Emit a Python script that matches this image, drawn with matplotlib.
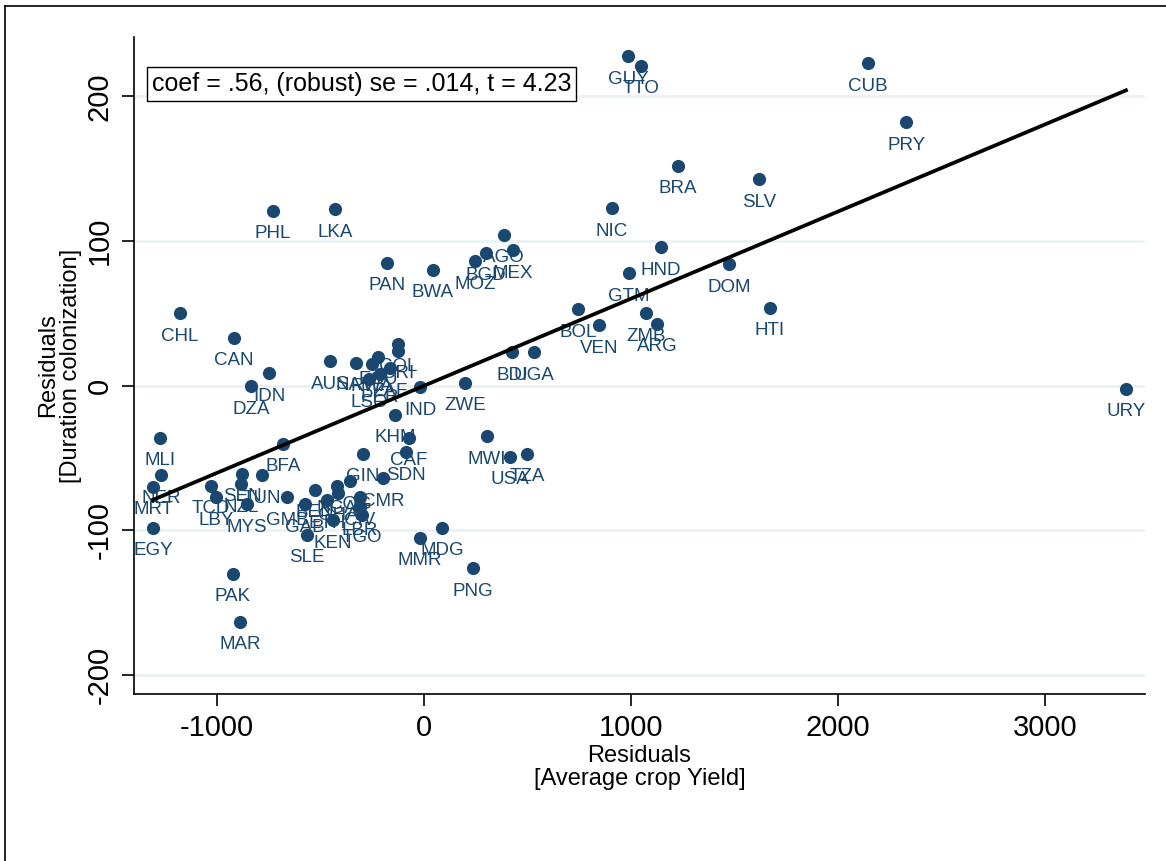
# Added-variable plot: duration of colonization vs average crop yield

import matplotlib
matplotlib.use("Agg")
import matplotlib.pyplot as plt
from matplotlib.lines import Line2D
import numpy as np

plt.rcParams['font.family'] = ['Liberation Sans', 'DejaVu Sans']
plt.rcParams['axes.unicode_minus'] = False

paises = ["CHL", "CAN", "IDN", "DZA", "MLI", "NER", "MRT", "EGY",
          "TCD", "LBY", "SEN", "NZL", "TUN", "MYS", "BFA", "PAK", "MAR",
          "PHL", "LKA", "PAN", "BWA", "MOZ", "BGD", "AGO", "MEX",
          "NIC", "BRA", "SLV", "GUY", "TTO", "CUB", "PRY", "HND", "DOM",
          "GTM", "HTI", "BOL", "VEN", "ZMB", "ARG", "BDI", "UGA", "ZWE",
          "MWI", "USA", "TZA", "URY",
          "AUS", "NAM", "RWA", "ECU", "PER", "ZAF", "LSO", "COL", "CRI",
          "IND", "KHM", "CAF", "SDN", "GIN", "CMR", "COG", "BEN", "NGA",
          "GHA", "GMB", "GAB", "ETH", "CIV", "LBR", "TGO", "KEN", "SLE",
          "MMR", "MDG", "PNG"]

residuo_x = [-1179, -918, -749, -836, -1275, -1271, -1309, -1309,
             -1029, -1005, -879, -884, -783, -855, -681, -923, -889,
             -729, -430, -179, 43, 246, 300, 386, 430,
             908, 1227, 1618, 985, 1048, 2145, 2329, 1145, 1473,
             990, 1671, 744, 845, 1072, 1126, 425, 531, 198,
             304, 415, 497, 3391,
             -454, -329, -251, -222, -213, -164, -266, -126, -126,
             -19, -140, -72, -87, -295, -198, -357, -527, -420,
             -415, -662, -575, -469, -309, -309, -300, -440, -565,
             -19, 87, 237]

residuo_y = [50, 33, 8.6, -0.3, -36, -62, -70, -98,
             -69, -77, -61, -68, -62, -82, -40, -130, -163,
             121, 122, 85, 80, 86, 92, 104.5, 93.6,
             122.6, 152, 142.6, 227.6, 221, 222.8, 182, 95.7, 84,
             77.7, 54, 52.8, 41.8, 50, 43, 23, 23, 2,
             -35, -49, -47, -2,
             17, 16, 15, 20, 8, 12, 4.5, 29, 24,
             -1, -20, -36, -46, -47, -64, -66, -72, -69,
             -74, -77, -82, -79, -77, -84, -89, -93, -103,
             -105, -98, -126]

pendiente = 0.0602
intercepto = 0.0
texto_coef = "coef = .56, (robust) se = .014, t = 4.23"

azul = "#1a476f"

fig = plt.figure(figsize=(11.66, 8.61), dpi=100)
ax = fig.add_axes([134 / 1166, 1 - 694 / 861, (1145 - 134) / 1166, (694 - 37) / 861])

ax.set_xlim(-1401, 3483)
ax.set_ylim(-213, 241)

# grid horizontal estilo Stata
for yv in [-200, -100, 0, 100, 200]:
    ax.axhline(yv, color="#eaf2f3", lw=2, zorder=0)

ax.scatter(residuo_x, residuo_y, s=90, color=azul, zorder=3, linewidths=0)
for nombre, xv, yv in zip(paises, residuo_x, residuo_y):
    ax.annotate(nombre, (xv, yv), xytext=(0, -16.5), textcoords="offset points",
                ha="center", va="center", fontsize=13.5, color=azul, zorder=4)

xs = np.array([min(residuo_x), max(residuo_x)])
ax.plot(xs, intercepto + pendiente * xs, color="black", lw=2.7, zorder=5)

ax.text(0.0175, 0.928, texto_coef, transform=ax.transAxes, fontsize=18,
        ha="left", va="center",
        bbox=dict(boxstyle="square,pad=0.2", fc="white", ec="black", lw=1))

ax.spines["top"].set_visible(False)
ax.spines["right"].set_visible(False)
ax.spines["left"].set_linewidth(1.2)
ax.spines["bottom"].set_linewidth(1.2)

ax.set_xticks([-1000, 0, 1000, 2000, 3000])
ax.set_yticks([-200, -100, 0, 100, 200])
ax.tick_params(axis="both", length=8.5, width=1.2, labelsize=21, pad=6)
for lab in ax.get_yticklabels():
    lab.set_rotation(90)
    lab.set_va("center")

ax.set_xlabel("Residuals\n[Average crop Yield]", fontsize=17, linespacing=1.05, labelpad=2)
ax.set_ylabel("Residuals\n[Duration colonization]", fontsize=17, linespacing=1.05, labelpad=3)

# marco exterior
fig.add_artist(Line2D([5 / 1166, 5 / 1166], [0, 1 - 6 / 861], color="black", lw=1.2))
fig.add_artist(Line2D([5 / 1166, 1], [1 - 6 / 861, 1 - 6 / 861], color="black", lw=1.2))

fig.savefig("out.png", dpi=100, facecolor="white")
